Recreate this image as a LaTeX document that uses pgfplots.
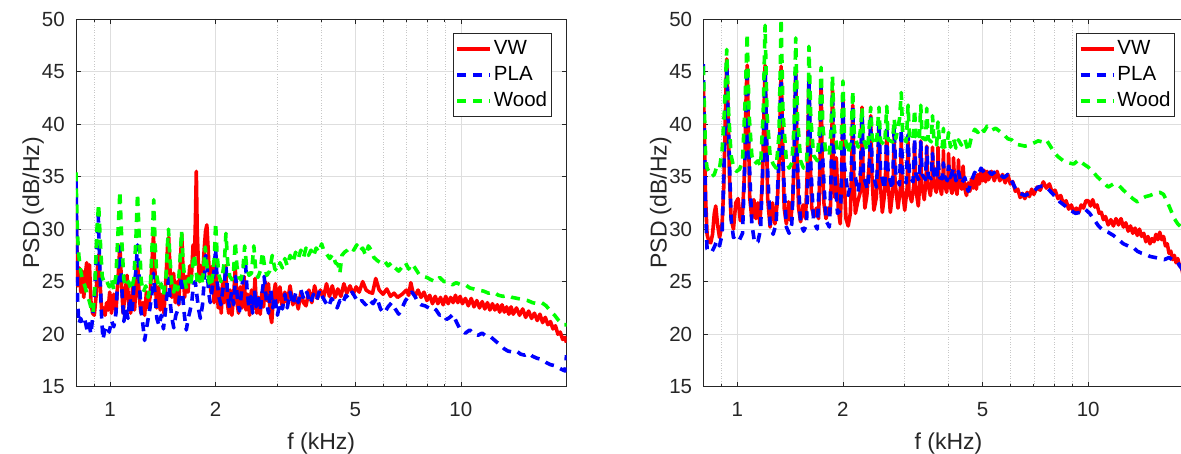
\documentclass[border=0pt]{standalone}
\usepackage{fontspec}
\setmainfont{Liberation Sans}
\usepackage{pgfplots}
\usepackage{pgfplotstable}
\pgfplotsset{compat=1.18}
\definecolor{axgray}{rgb}{0.15,0.15,0.15}
\definecolor{gridgray}{rgb}{0.87,0.87,0.87}
\definecolor{mgridgray}{rgb}{0.78,0.78,0.78}
\definecolor{mred}{rgb}{1,0,0}
\definecolor{mblue}{rgb}{0,0,1}
\definecolor{mgreen}{rgb}{0,1,0}
\tikzset{
  vw/.style={mred, line width=3.6pt, line join=round, solid},
  pla/.style={mblue, line width=3.6pt, line join=round, dash pattern=on 9pt off 7pt},
  wood/.style={mgreen, line width=3.6pt, line join=round, dash pattern=on 9pt off 7pt},
}

% ---------------- Left panel data ----------------
\pgfplotstableread{
f v
0.800 32.9
0.805 28.0
0.810 24.6
0.818 26.3
0.826 24.0
0.834 26.0
0.842 23.5
0.850 25.5
0.858 26.8
0.866 24.5
0.874 26.6
0.882 23.2
0.892 22.0
0.902 21.8
0.912 23.5
0.922 26.5
0.930 27.6
0.938 24.5
0.948 22.0
0.958 22.5
0.968 21.8
0.978 23.0
0.988 22.3
0.998 24.0
1.010 22.0
1.025 23.8
1.040 22.2
1.055 25.5
1.067 28.4
1.078 25.0
1.090 22.0
1.105 24.0
1.118 25.6
1.130 23.0
1.145 22.0
1.160 24.5
1.175 22.3
1.190 25.8
1.200 26.6
1.212 23.5
1.225 22.0
1.240 23.0
1.255 21.8
1.270 24.0
1.285 22.5
1.300 23.5
1.318 27.0
1.330 29.4
1.343 26.0
1.358 22.5
1.375 24.5
1.390 22.3
1.408 23.8
1.425 22.0
1.445 25.5
1.460 28.5
1.470 29.2
1.485 25.5
1.500 23.5
1.518 25.8
1.535 23.0
1.555 25.0
1.570 22.8
1.590 27.5
1.602 29.5
1.615 26.0
1.632 23.5
1.650 25.5
1.668 24.0
1.688 26.5
1.705 25.2
1.725 28.5
1.742 27.5
1.752 31.0
1.762 35.5
1.772 30.0
1.785 27.0
1.800 25.0
1.815 26.5
1.835 25.2
1.855 28.0
1.872 29.8
1.888 30.4
1.905 28.0
1.920 25.5
1.940 24.0
1.960 26.5
1.980 23.0
2.000 27.6
2.015 24.5
2.035 22.5
2.055 24.3
2.075 22.0
2.095 25.0
2.115 23.0
2.135 26.5
2.155 23.2
2.180 22.0
2.200 24.2
2.225 21.8
2.250 23.5
2.275 26.3
2.300 23.0
2.325 22.0
2.350 24.5
2.380 22.5
2.410 25.5
2.440 22.3
2.470 23.8
2.500 21.8
2.530 24.2
2.560 22.4
2.590 25.3
2.620 22.0
2.650 23.5
2.680 21.9
2.710 24.0
2.740 22.6
2.770 25.0
2.800 23.2
2.830 24.8
2.860 22.0
2.890 21.1
2.920 23.5
2.960 24.8
3.000 23.0
3.050 24.5
3.100 22.5
3.150 24.0
3.200 23.0
3.260 24.6
3.320 22.8
3.380 23.6
3.440 22.4
3.500 24.0
3.560 23.0
3.620 22.7
3.690 24.2
3.760 23.0
3.830 24.6
3.900 23.4
3.980 24.2
4.060 23.5
4.140 24.8
4.220 23.6
4.300 24.6
4.380 23.5
4.460 24.3
4.550 23.6
4.640 24.8
4.730 23.9
4.830 24.6
4.930 23.8
5.030 24.5
5.130 24.0
5.250 25.0
5.370 24.2
5.480 24.0
5.600 23.9
5.720 25.3
5.850 24.2
6.000 23.8
6.150 24.3
6.300 23.6
6.450 23.9
6.600 23.5
6.800 23.8
7.00 24.2
7.10 23.7
7.20 24.9
7.30 24.0
7.40 23.6
7.55 24.2
7.70 23.5
7.85 24.0
8.00 23.2
8.15 23.7
8.30 22.9
8.45 23.6
8.60 22.9
8.75 23.5
8.90 22.8
9.05 23.6
9.20 22.9
9.35 23.5
9.50 23.0
9.65 23.7
9.80 23.0
9.95 23.6
10.1 22.9
10.3 23.4
10.5 22.7
10.7 23.4
10.9 22.6
11.1 23.2
11.3 22.5
11.5 23.1
11.7 22.4
11.9 23.0
12.1 22.3
12.3 22.9
12.5 22.3
12.7 22.8
12.9 22.1
13.1 22.8
13.3 22.1
13.5 22.6
13.7 21.9
13.9 22.6
14.1 21.9
14.4 22.5
14.7 21.8
15.0 22.4
15.3 21.6
15.6 22.2
15.9 21.5
16.2 22.0
16.5 21.3
16.8 21.9
17.1 21.1
17.4 21.6
17.7 20.9
18.0 21.2
18.3 20.5
18.6 20.8
18.9 20.0
19.2 20.2
19.5 19.5
19.8 19.7
20.0 19.2
}\LVW

\pgfplotstableread{
f v
0.800 34.6
0.804 29.0
0.808 23.5
0.815 21.0
0.825 21.5
0.835 21.0
0.848 21.4
0.860 20.4
0.872 21.0
0.882 20.0
0.892 21.5
0.905 24.0
0.918 29.0
0.926 31.3
0.934 27.0
0.945 22.0
0.955 19.5
0.968 20.5
0.980 20.8
0.995 20.2
1.010 21.3
1.025 20.7
1.040 22.0
1.055 26.0
1.067 28.3
1.080 24.5
1.095 21.2
1.110 22.5
1.125 21.5
1.140 23.5
1.155 22.0
1.170 24.5
1.185 26.0
1.198 28.5
1.210 25.5
1.225 22.3
1.240 21.0
1.255 19.4
1.270 20.5
1.285 21.5
1.300 22.5
1.318 24.0
1.330 25.8
1.345 23.5
1.360 21.5
1.380 20.8
1.400 21.8
1.420 20.5
1.440 22.3
1.458 24.5
1.470 25.3
1.485 23.0
1.500 21.6
1.520 20.6
1.540 21.8
1.560 22.3
1.580 23.8
1.600 25.5
1.615 23.2
1.632 21.6
1.650 20.4
1.670 21.5
1.690 22.2
1.710 23.0
1.730 24.8
1.750 25.0
1.770 23.6
1.790 22.3
1.810 21.5
1.835 22.8
1.855 25.0
1.875 27.5
1.890 26.5
1.910 24.0
1.930 23.0
1.955 24.3
1.975 25.5
2.000 28.2
2.020 25.0
2.045 23.5
2.070 22.8
2.095 24.2
2.120 25.0
2.140 26.5
2.165 23.6
2.190 22.5
2.220 24.0
2.250 22.8
2.280 25.5
2.310 23.2
2.340 22.2
2.370 24.0
2.400 26.0
2.430 27.2
2.460 24.0
2.490 22.5
2.520 23.6
2.550 22.0
2.580 24.2
2.610 22.6
2.640 23.8
2.680 22.2
2.720 24.2
2.750 25.5
2.790 23.2
2.830 22.0
2.870 24.3
2.910 22.5
2.950 23.6
3.000 21.8
3.050 23.0
3.100 22.4
3.150 23.8
3.200 22.5
3.260 24.0
3.320 22.8
3.380 23.9
3.440 23.0
3.500 24.2
3.570 23.3
3.640 24.0
3.720 22.9
3.800 23.8
3.880 23.2
3.960 24.2
4.040 23.5
4.120 23.0
4.200 22.6
4.280 23.4
4.360 23.0
4.440 22.5
4.520 23.2
4.600 22.9
4.700 23.7
4.800 23.4
4.900 24.0
5.000 23.5
5.100 23.0
5.220 23.2
5.350 22.8
5.480 23.3
5.620 22.9
5.760 23.5
5.900 22.4
6.050 22.0
6.200 22.6
6.350 23.0
6.500 22.4
6.650 21.9
6.800 22.5
6.950 23.2
7.100 23.6
7.250 24.0
7.400 23.6
7.550 23.0
7.700 22.8
7.900 22.7
8.100 22.5
8.300 22.6
8.500 22.3
8.700 21.8
8.900 21.9
9.100 21.4
9.300 21.6
9.500 21.9
9.700 21.2
9.900 20.6
10.10 20.3
10.30 20.1
10.60 20.4
10.90 20.0
11.20 19.9
11.50 20.1
11.80 19.8
12.10 19.8
12.40 19.5
12.70 19.2
13.00 18.9
13.30 18.6
13.60 18.4
14.00 18.3
14.40 18.4
14.80 18.1
15.20 18.0
15.60 18.2
16.00 17.9
16.50 17.7
17.00 17.6
17.50 17.3
18.00 17.1
18.50 17.0
19.00 16.8
19.50 16.6
19.80 16.5
19.90 17.2
20.00 18.0
}\LPLA

\pgfplotstableread{
f v
0.800 35.4
0.804 32.0
0.808 29.5
0.815 27.5
0.825 26.0
0.835 25.2
0.848 24.6
0.860 23.8
0.872 23.2
0.885 22.4
0.895 22.0
0.905 24.5
0.918 30.0
0.928 32.4
0.938 29.0
0.950 25.5
0.965 24.8
0.980 25.0
0.995 24.5
1.010 25.3
1.025 24.2
1.040 25.6
1.055 30.0
1.067 33.6
1.080 29.0
1.095 25.2
1.110 24.5
1.130 25.0
1.150 24.2
1.170 25.3
1.185 29.0
1.198 33.4
1.212 29.0
1.228 25.0
1.245 24.0
1.265 24.6
1.285 23.5
1.305 25.0
1.320 29.0
1.332 32.8
1.345 28.5
1.360 25.5
1.380 24.3
1.400 24.8
1.420 23.7
1.445 25.6
1.458 28.5
1.468 30.0
1.480 27.5
1.500 24.8
1.520 24.0
1.540 25.0
1.560 24.2
1.580 26.5
1.600 29.8
1.615 27.0
1.635 25.0
1.655 24.3
1.675 25.3
1.695 24.5
1.715 26.0
1.735 27.6
1.755 26.5
1.775 24.8
1.795 25.5
1.820 24.6
1.845 25.8
1.868 28.3
1.890 26.5
1.915 25.0
1.940 24.5
1.965 25.8
1.985 27.5
2.000 30.6
2.020 27.5
2.045 25.6
2.070 25.0
2.095 25.8
2.120 27.0
2.140 29.6
2.165 26.8
2.195 25.5
2.225 25.2
2.250 26.0
2.275 28.8
2.300 26.5
2.330 25.4
2.360 25.2
2.390 26.0
2.420 28.4
2.450 26.5
2.490 25.6
2.530 25.8
2.570 28.4
2.600 26.2
2.640 25.4
2.680 26.0
2.720 27.8
2.760 26.4
2.800 25.6
2.850 26.0
2.900 27.5
2.950 26.2
3.000 26.0
3.050 26.8
3.100 26.3
3.150 27.2
3.200 26.5
3.260 27.5
3.320 26.8
3.380 27.8
3.440 27.2
3.500 28.0
3.560 27.3
3.620 28.2
3.680 27.5
3.740 28.0
3.800 27.4
3.870 28.2
3.940 27.8
4.010 28.6
4.080 27.8
4.150 27.6
4.230 27.2
4.310 27.6
4.390 26.8
4.470 26.6
4.520 25.8
4.580 27.5
4.660 27.8
4.750 28.0
4.850 28.3
4.950 28.0
5.050 28.5
5.150 27.9
5.250 28.2
5.350 27.5
5.450 28.4
5.550 28.0
5.650 27.3
5.780 27.0
5.900 26.8
6.050 27.0
6.200 26.5
6.350 26.8
6.500 26.3
6.650 26.0
6.800 26.4
6.950 26.8
7.100 26.2
7.250 26.7
7.400 26.3
7.600 25.7
7.800 25.5
8.000 25.4
8.200 25.2
8.450 25.0
8.700 25.4
8.950 25.0
9.200 25.0
9.450 24.7
9.700 24.9
10.00 24.7
10.30 24.7
10.60 24.4
10.90 24.3
11.20 24.2
11.60 24.1
12.00 23.9
12.40 24.0
12.80 23.7
13.20 23.6
13.60 23.7
14.00 23.5
14.50 23.4
15.00 23.3
15.50 23.2
16.00 23.0
16.50 22.9
17.00 23.0
17.50 22.7
18.00 22.2
18.50 21.8
19.00 21.3
19.50 20.9
20.00 20.9
}\LWOOD

% ---------------- Right panel data ----------------
\pgfplotstableread{
f v
0.800 43.8
0.805 40.0
0.812 33.0
0.820 29.5
0.830 28.8
0.840 28.7
0.850 29.5
0.860 31.5
0.868 32.2
0.878 30.5
0.890 29.2
0.905 30.5
0.915 34.0
0.925 41.0
0.933 46.2
0.940 42.0
0.950 35.0
0.960 31.0
0.975 30.0
0.990 32.5
1.005 32.9
1.020 30.8
1.035 31.5
1.050 36.0
1.060 43.0
1.067 45.6
1.075 40.0
1.085 33.0
1.100 31.0
1.115 32.8
1.130 31.0
1.145 32.5
1.160 30.5
1.180 35.0
1.193 42.0
1.200 45.6
1.208 41.0
1.220 33.0
1.240 30.2
1.260 32.5
1.280 30.5
1.300 32.5
1.318 37.0
1.333 45.5
1.345 39.0
1.360 32.0
1.380 30.5
1.400 32.6
1.420 30.8
1.440 33.0
1.455 38.0
1.467 45.0
1.478 38.0
1.495 32.0
1.515 30.7
1.540 32.3
1.565 31.0
1.585 36.0
1.600 44.6
1.612 37.0
1.630 32.0
1.655 31.2
1.680 32.0
1.705 31.0
1.720 36.0
1.733 44.0
1.745 37.0
1.765 32.5
1.790 31.0
1.815 32.0
1.840 31.5
1.855 35.0
1.867 43.3
1.880 36.5
1.898 33.0
1.915 36.8
1.940 32.0
1.965 30.5
1.985 35.0
2.000 42.3
2.015 35.0
2.040 31.0
2.070 30.3
2.100 31.5
2.120 36.0
2.133 41.8
2.147 35.0
2.170 31.5
2.200 32.5
2.240 33.5
2.255 37.0
2.267 41.6
2.280 35.5
2.310 32.0
2.340 33.2
2.385 37.0
2.400 40.8
2.415 35.5
2.450 31.8
2.490 33.0
2.520 37.0
2.533 40.0
2.548 35.0
2.590 31.6
2.630 33.4
2.655 36.5
2.667 39.4
2.680 35.0
2.730 31.6
2.780 34.0
2.800 39.1
2.815 34.5
2.870 32.0
2.915 33.8
2.933 38.6
2.950 34.0
3.000 31.8
3.050 34.0
3.067 38.3
3.085 33.5
3.140 32.6
3.185 34.2
3.200 38.2
3.220 34.0
3.280 32.2
3.320 35.0
3.333 38.4
3.350 34.3
3.410 32.8
3.455 35.0
3.467 37.9
3.485 34.5
3.550 33.2
3.590 35.0
3.600 37.8
3.620 34.5
3.690 33.5
3.725 35.2
3.733 37.8
3.755 34.6
3.820 33.3
3.860 35.2
3.867 37.5
3.885 34.5
3.950 33.5
3.990 35.0
4.000 37.2
4.025 34.5
4.090 33.4
4.125 35.2
4.133 36.8
4.160 34.2
4.230 33.3
4.260 35.4
4.267 36.6
4.300 34.3
4.360 33.8
4.400 36.0
4.440 34.0
4.50 33.2
4.55 34.4
4.60 33.6
4.65 34.8
4.70 33.9
4.75 35.0
4.80 33.8
4.85 35.2
4.90 34.3
4.95 35.4
5.00 34.6
5.05 35.6
5.10 34.5
5.15 35.5
5.20 34.7
5.30 35.5
5.40 34.6
5.50 35.5
5.60 34.6
5.70 35.2
5.80 34.4
5.90 35.2
6.00 34.3
6.10 34.5
6.20 33.6
6.30 33.8
6.40 33.0
6.50 33.4
6.60 32.9
6.70 33.5
6.80 33.1
6.90 33.8
7.00 33.3
7.15 34.0
7.30 33.7
7.45 34.5
7.60 33.9
7.75 34.3
7.90 33.5
8.05 33.7
8.20 32.9
8.35 33.2
8.50 32.4
8.65 32.7
8.80 31.9
8.95 32.3
9.10 31.6
9.25 32.0
9.40 31.6
9.55 32.3
9.70 32.0
9.85 32.7
10.0 32.7
10.15 32.2
10.3 32.8
10.45 32.1
10.6 32.3
10.75 31.5
10.9 31.6
11.05 30.9
11.2 31.2
11.4 30.4
11.6 30.9
11.8 30.3
12.0 31.0
12.2 30.4
12.4 31.0
12.6 30.2
12.8 30.6
13.0 29.8
13.2 30.3
13.4 29.6
13.6 30.1
13.8 29.4
14.0 30.0
14.2 29.3
14.4 29.6
14.6 28.8
14.8 29.3
15.0 28.6
15.2 29.1
15.4 28.8
15.6 29.5
15.8 29.0
16.0 29.7
16.2 29.0
16.4 29.3
16.6 28.4
16.8 28.6
17.0 27.7
17.2 27.9
17.4 27.1
17.6 27.5
17.8 26.8
18.0 27.2
18.2 26.5
18.4 26.6
18.6 25.8
18.9 25.3
20.0 24.5
}\RVW

\pgfplotstableread{
f v
0.800 45.7
0.805 40.0
0.812 32.0
0.820 28.1
0.830 27.9
0.845 27.8
0.860 28.3
0.875 28.9
0.890 28.4
0.905 29.5
0.918 37.0
0.933 45.8
0.945 39.0
0.960 31.0
0.975 29.2
0.995 29.4
1.015 29.0
1.035 29.6
1.052 37.0
1.067 45.4
1.080 37.0
1.100 30.5
1.120 28.7
1.145 28.8
1.165 30.0
1.185 37.0
1.200 45.2
1.215 37.0
1.240 30.5
1.265 29.5
1.290 30.5
1.315 37.0
1.333 45.0
1.350 36.0
1.380 30.2
1.405 29.6
1.430 30.5
1.450 36.0
1.467 44.7
1.485 36.0
1.515 30.5
1.545 29.8
1.575 30.4
1.590 36.0
1.600 44.3
1.620 36.0
1.650 30.7
1.690 30.0
1.715 35.0
1.733 43.8
1.755 36.0
1.790 30.8
1.830 30.2
1.850 35.0
1.867 43.0
1.890 36.0
1.930 31.5
1.970 31.8
1.985 36.0
2.000 42.0
2.020 36.0
2.070 33.2
2.110 34.5
2.133 41.6
2.155 35.5
2.210 33.5
2.245 35.5
2.267 41.0
2.290 35.0
2.350 33.8
2.380 36.0
2.400 40.6
2.425 35.5
2.490 34.0
2.515 36.5
2.533 40.2
2.560 35.5
2.630 33.8
2.650 36.5
2.667 39.8
2.690 35.2
2.770 33.8
2.800 39.7
2.830 35.0
2.900 34.2
2.933 39.5
2.960 35.0
3.030 34.4
3.067 39.0
3.095 35.0
3.170 34.5
3.200 38.6
3.230 35.2
3.300 34.6
3.333 38.3
3.365 35.2
3.440 34.7
3.467 37.8
3.500 35.0
3.570 34.8
3.600 37.2
3.635 35.2
3.700 34.7
3.733 36.5
3.770 34.9
3.840 34.8
3.867 36.3
3.900 35.0
3.970 34.6
4.000 36.0
4.050 34.9
4.133 35.8
4.200 34.6
4.267 35.5
4.350 34.3
4.450 34.9
4.550 33.6
4.650 34.6
4.750 35.4
4.850 35.1
4.950 35.8
5.050 35.4
5.150 35.7
5.300 35.2
5.450 35.5
5.600 35.2
5.750 34.9
5.900 35.2
6.050 34.6
6.200 33.9
6.400 33.4
6.600 33.2
6.800 33.4
7.000 33.6
7.200 34.0
7.400 34.1
7.600 34.0
7.800 33.6
8.000 33.2
8.300 32.6
8.600 32.2
8.900 31.8
9.200 31.5
9.500 31.6
9.800 31.9
10.10 31.5
10.40 30.9
10.70 30.3
11.00 29.9
11.40 29.7
11.80 29.4
12.20 29.0
12.60 28.6
13.00 28.4
13.40 28.3
13.80 27.9
14.20 27.7
14.60 27.6
15.00 27.4
15.50 27.3
16.00 27.2
16.50 27.1
17.00 27.3
17.50 27.0
18.00 26.8
18.50 26.2
18.90 25.3
20.00 24.6
}\RPLA

\pgfplotstableread{
f v
0.800 45.5
0.805 42.0
0.812 37.0
0.820 35.8
0.830 35.5
0.845 35.0
0.860 35.2
0.875 36.0
0.890 35.8
0.905 37.5
0.918 41.0
0.933 47.1
0.945 41.0
0.960 37.0
0.975 36.0
0.995 35.5
1.015 35.7
1.035 36.5
1.052 42.0
1.067 48.6
1.080 41.0
1.100 37.0
1.120 36.2
1.145 36.5
1.165 36.0
1.185 41.0
1.200 49.4
1.215 41.0
1.240 37.0
1.265 36.2
1.290 35.8
1.315 39.0
1.333 50.0
1.350 41.0
1.380 36.5
1.405 35.8
1.430 36.3
1.450 39.5
1.467 48.2
1.485 40.5
1.515 36.5
1.545 35.8
1.575 36.4
1.590 39.0
1.600 47.4
1.620 40.5
1.650 37.0
1.690 36.5
1.715 39.5
1.733 45.4
1.755 39.5
1.790 37.2
1.830 37.0
1.850 39.5
1.867 44.6
1.890 39.5
1.930 37.5
1.970 37.3
1.985 40.0
2.000 44.1
2.020 39.0
2.070 37.2
2.110 38.5
2.133 43.2
2.155 39.0
2.210 37.8
2.245 39.5
2.267 41.6
2.290 38.5
2.350 37.5
2.380 40.0
2.400 41.6
2.425 38.6
2.490 38.0
2.515 40.0
2.533 41.6
2.560 38.4
2.630 38.0
2.650 40.0
2.667 41.7
2.690 38.5
2.770 38.3
2.800 40.5
2.830 38.6
2.900 40.5
2.933 43.0
2.960 39.0
3.030 38.3
3.067 41.8
3.095 38.6
3.170 38.5
3.200 41.4
3.230 38.8
3.300 38.4
3.333 41.8
3.365 38.7
3.440 38.5
3.467 41.5
3.500 38.6
3.570 38.3
3.600 40.8
3.635 38.4
3.700 38.0
3.733 40.2
3.770 38.1
3.840 37.8
3.867 39.6
3.900 37.8
3.970 38.3
4.000 39.2
4.050 37.8
4.133 38.6
4.200 37.7
4.267 38.5
4.350 38.0
4.450 38.6
4.550 37.4
4.650 38.8
4.750 39.5
4.850 39.2
4.950 39.7
5.050 39.3
5.150 39.8
5.300 39.4
5.450 39.6
5.600 39.3
5.750 39.0
5.900 38.6
6.050 38.5
6.200 38.1
6.400 38.0
6.600 37.9
6.800 38.0
7.000 38.2
7.200 38.4
7.400 38.3
7.600 38.5
7.800 37.9
8.000 37.3
8.200 36.9
8.500 36.5
8.800 36.3
9.100 36.2
9.400 36.6
9.700 36.2
10.00 35.9
10.30 35.5
10.60 35.0
11.00 34.5
11.40 34.0
11.80 34.3
12.20 34.2
12.60 33.7
13.00 33.3
13.40 32.9
13.80 32.6
14.20 32.9
14.60 33.1
15.00 33.2
15.50 33.4
16.00 33.5
16.40 33.3
16.80 32.6
17.20 31.8
17.60 31.0
18.00 30.5
18.40 30.2
18.80 30.5
19.20 30.4
20.00 30.2
}\RWOOD

\begin{document}
\begin{tikzpicture}[x=1pt,y=1pt]
\begin{axis}[
    at={(76pt,67.3pt)}, anchor=south west,
    scale only axis,
    width=490.5pt, height=367.7pt,
    xmode=log,
    xmin=0.8, xmax=20, ymin=15, ymax=50,
    xtick={1,2,5,10}, xticklabels={1,2,5,10},
    minor xtick={0.9,3,4,6,7,8,9},
    ytick={15,20,25,30,35,40,45,50},
    yticklabels={15,20,25,30,35,40,45,50},
    grid=both,
    major grid style={color=gridgray, line width=0.7pt},
    minor grid style={color=mgridgray, line width=0.6pt, dotted},
    tick align=inside,
    major tick length=5pt, minor tick length=3pt,
    every tick/.style={axgray, line width=0.7pt},
    axis line style={axgray, line width=0.8pt},
    tick label style={font=\fontsize{20.5}{20.5}\selectfont, text=axgray, inner sep=0pt},
    xticklabel style={anchor=base, yshift=-30pt},
    yticklabel style={anchor=base east, xshift=-11pt, yshift=-7.3pt},
    xlabel={f (kHz)}, ylabel={PSD (dB/Hz)},
    label style={font=\fontsize{23}{23}\selectfont, text=axgray},
    xlabel style={at={(axis description cs:0.5,-0.172)}, anchor=base},
    ylabel style={at={(axis description cs:-0.075,0.5)}, anchor=base},
    legend image code/.code={\draw[#1] (0pt,0pt) -- (33pt,0pt);},
    legend style={at={(0.9695,0.961)}, anchor=north east,
      draw=axgray, line width=0.8pt, fill=white,
      font=\fontsize{20.5}{20.5}\selectfont,
      inner xsep=2pt, inner ysep=6pt, row sep=7pt,
      nodes={inner xsep=2pt, inner ysep=0pt, text height=15pt, text depth=4pt}},
    legend cell align=left,
]
\addplot[vw] table[x=f,y=v] {\LVW};
\addplot[pla] table[x=f,y=v] {\LPLA};
\addplot[wood] table[x=f,y=v] {\LWOOD};
\legend{VW,PLA,Wood}
\end{axis}
\begin{axis}[
    at={(703.3pt,67.3pt)}, anchor=south west,
    scale only axis,
    width=490.5pt, height=367.7pt,
    xmode=log,
    xmin=0.8, xmax=20, ymin=15, ymax=50,
    xtick={1,2,5,10}, xticklabels={1,2,5,10},
    minor xtick={0.9,3,4,6,7,8,9},
    ytick={15,20,25,30,35,40,45,50},
    yticklabels={15,20,25,30,35,40,45,50},
    grid=both,
    major grid style={color=gridgray, line width=0.7pt},
    minor grid style={color=mgridgray, line width=0.6pt, dotted},
    tick align=inside,
    major tick length=5pt, minor tick length=3pt,
    every tick/.style={axgray, line width=0.7pt},
    axis line style={axgray, line width=0.8pt},
    tick label style={font=\fontsize{20.5}{20.5}\selectfont, text=axgray, inner sep=0pt},
    xticklabel style={anchor=base, yshift=-30pt},
    yticklabel style={anchor=base east, xshift=-11pt, yshift=-7.3pt},
    xlabel={f (kHz)}, ylabel={PSD (dB/Hz)},
    label style={font=\fontsize{23}{23}\selectfont, text=axgray},
    xlabel style={at={(axis description cs:0.5,-0.172)}, anchor=base},
    ylabel style={at={(axis description cs:-0.075,0.5)}, anchor=base},
    legend image code/.code={\draw[#1] (0pt,0pt) -- (33pt,0pt);},
    legend style={at={(0.9617,0.961)}, anchor=north east,
      draw=axgray, line width=0.8pt, fill=white,
      font=\fontsize{20.5}{20.5}\selectfont,
      inner xsep=2pt, inner ysep=6pt, row sep=7pt,
      nodes={inner xsep=2pt, inner ysep=0pt, text height=15pt, text depth=4pt}},
    legend cell align=left,
]
\addplot[vw] table[x=f,y=v] {\RVW};
\addplot[pla] table[x=f,y=v] {\RPLA};
\addplot[wood] table[x=f,y=v] {\RWOOD};
\legend{VW,PLA,Wood}
\end{axis}
\pgfresetboundingbox
\path[use as bounding box] (0pt,0pt) rectangle (1181pt,454pt);
\end{tikzpicture}
\end{document}
